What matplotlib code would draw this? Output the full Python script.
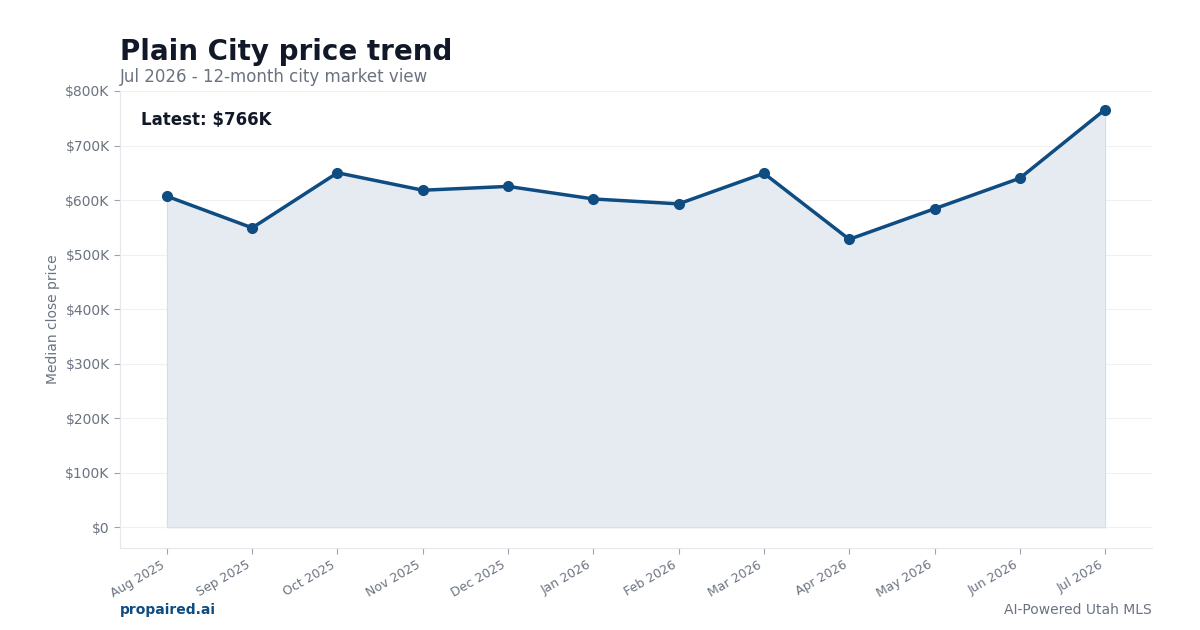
import matplotlib
matplotlib.use('Agg')
from matplotlib import pyplot as plt
from matplotlib.ticker import FuncFormatter

months = ['Aug 2025', 'Sep 2025', 'Oct 2025', 'Nov 2025', 'Dec 2025', 'Jan 2026',
          'Feb 2026', 'Mar 2026', 'Apr 2026', 'May 2026', 'Jun 2026', 'Jul 2026']
prices = [607000, 549000, 650000, 618000, 625000, 602000,
          593000, 649000, 528000, 584000, 640000, 766000]
yticks = [0, 100000, 200000, 300000, 400000, 500000, 600000, 700000, 800000]

navy = '#0f4c81'
grey = '#6b7280'

fig = plt.figure(figsize=(12, 6.3), dpi=100)
ax = fig.add_axes([0.1, 0.1302, 0.86, 0.7254])

x = list(range(len(months)))
# opaque fill so gridlines don't show through
ax.fill_between(x, prices, 0, facecolor='#e6ebf2', edgecolor='#d5dde7',
                linewidth=0.8, zorder=2)
ax.plot(x, prices, color=navy, linewidth=2.5, marker='o', markersize=7, zorder=3)

ax.set_xlim(-0.55, 11.55)
ax.set_ylim(-38000, 800000)
ax.set_yticks(yticks)
ax.yaxis.set_major_formatter(FuncFormatter(lambda v, p: '$0' if v == 0 else '${:.0f}K'.format(v / 1000)))
ax.set_xticks(x)
ax.set_xticklabels(months, rotation=30, ha='right')
ax.tick_params(axis='x', colors=grey, labelsize=9, length=4, color='#9ca3af')
ax.tick_params(axis='y', colors=grey, labelsize=10, length=4, color='#9ca3af')
ax.set_ylabel('Median close price', color=grey, fontsize=10)
ax.grid(axis='y', color='#f0f0f0', linewidth=0.8, zorder=0)
ax.set_axisbelow(True)
for s in ['top', 'right']:
    ax.spines[s].set_visible(False)
for s in ['left', 'bottom']:
    ax.spines[s].set_color('#e5e7eb')

ax.text(0.02, 0.937, 'Latest: $766K', transform=ax.transAxes, fontsize=12,
        fontweight='bold', color='#111827', va='center', ha='left', zorder=4)

fig.text(0.1, 0.918, 'Plain City price trend', fontsize=20, fontweight='bold',
         color='#111827', va='center', ha='left')
fig.text(0.1, 0.877, 'Jul 2026 - 12-month city market view', fontsize=12,
         color=grey, va='center', ha='left')
fig.text(0.1, 0.032, 'propaired.ai', fontsize=10, fontweight='bold', color=navy,
         va='center', ha='left')
fig.text(0.96, 0.032, 'AI-Powered Utah MLS', fontsize=10, color=grey,
         va='center', ha='right')

fig.savefig('out.png', dpi=100)
